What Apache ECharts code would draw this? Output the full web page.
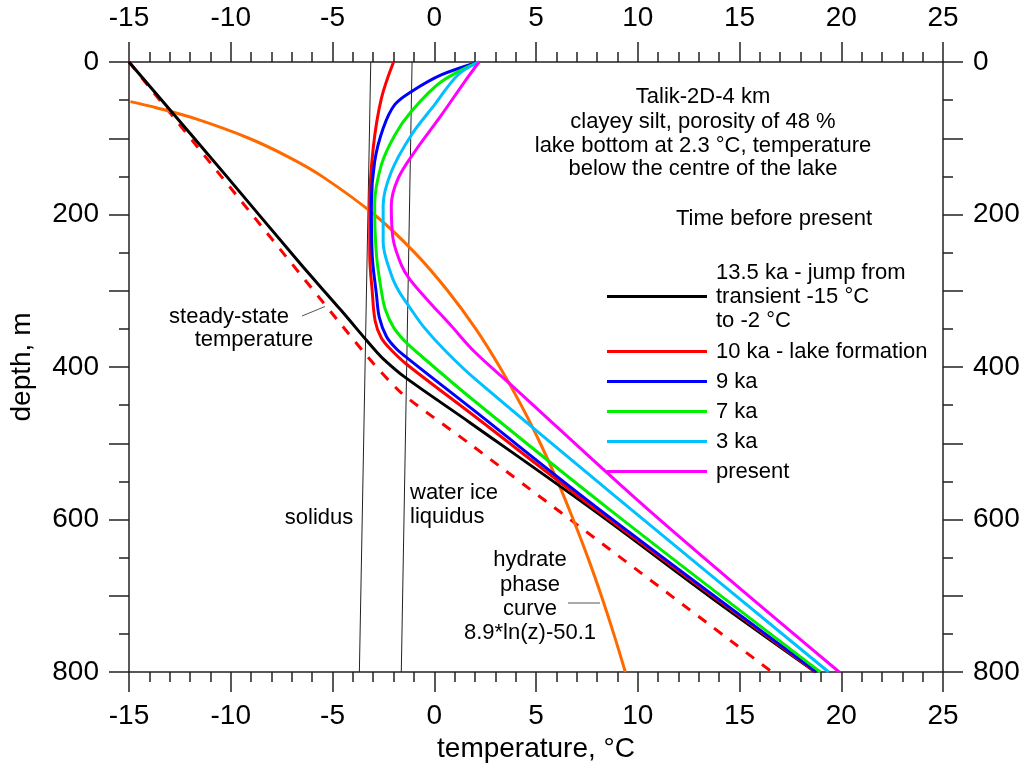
<!DOCTYPE html>
<html>
<head>
<meta charset="utf-8">
<script src="https://cdn.jsdelivr.net/npm/echarts@6/dist/echarts.min.js"></script>
<style>
  html, body { margin: 0; padding: 0; background: #fff; }
  #chart { width: 1024px; height: 772px; }
</style>
</head>
<body>
<div id="chart"></div>
<script>
// temperature (°C), depth (m) pairs
var transient135 = [[-15, 0], [-10.2, 150], [-6.6, 264], [-4.6, 325], [-3.33, 365], [-2.84, 380], [-2.44, 391],
  [-1.46, 413], [1.81, 474], [7.94, 590], [13.74, 705], [18.73, 800]];
var lake10 = [[-2.0, 0], [-2.6, 48], [-3.0, 113], [-3.17, 188], [-3.17, 253], [-3.05, 300], [-2.9, 340],
  [-2.6, 362], [-2.1, 378], [-1.33, 397], [1.81, 461], [8.1, 590], [18.75, 800]];
var ka9 = [[2.2, 0], [0.34, 17], [-1.13, 39], [-1.94, 56], [-2.51, 87], [-2.93, 131], [-3.09, 188], [-3.05, 253],
  [-2.84, 305], [-2.7, 335], [-2.35, 360], [-1.9, 375], [-1.29, 389], [1.81, 454], [8.27, 590], [18.8, 800]];
var ka7 = [[2.2, 0], [0.34, 26], [-1.13, 65], [-1.94, 96], [-2.6, 135], [-2.93, 188], [-2.84, 253], [-2.6, 300],
  [-2.4, 325], [-2.0, 348], [-1.45, 366], [-0.88, 380], [1.81, 441], [8.76, 590], [18.97, 800]];
var ka3 = [[2.2, 0], [1.16, 17], [0.02, 56], [-1.13, 96], [-2.11, 144], [-2.51, 188], [-2.51, 236], [-2.11, 279],
  [-1.75, 300], [-1.2, 322], [-0.5, 348], [0.59, 380], [2.06, 417], [9.82, 590], [19.38, 800]];
var present = [[2.2, 0], [1.49, 26], [0.34, 70], [-0.97, 118], [-1.78, 153], [-2.11, 188], [-2.03, 231],
  [-1.62, 266], [-1.2, 285], [-0.3, 313], [0.8, 345], [1.98, 380], [3.8, 424], [10.64, 590], [19.9, 800]];
var steadyState = [[-15, 0], [-3.42, 382], [-1.62, 434], [1.81, 502], [16.6, 800]];
var solidus = [[-3.12, 0], [-3.68, 800]];
var liquidus = [[-1.09, 0], [-1.62, 800]];
var hydrateDepth = [52, 60, 75, 100, 125, 150, 200, 250, 300, 350, 400, 450, 500, 550, 600, 650, 700, 750, 800];
var hydrateTemp = [-14.93, -13.66, -11.67, -9.11, -7.13, -5.51, -2.95, -0.96, 0.66, 2.04, 3.22, 4.27, 5.21, 6.06,
  6.83, 7.55, 8.21, 8.82, 9.39];

var legendNames = ["13.5 ka - jump from\ntransient -15 °C\nto -2 °C", "10 ka - lake formation", "9 ka", "7 ka", "3 ka", "present"];
var legendColors = ["#000000", "#ff0000", "#0000ff", "#00ee00", "#00c0ff", "#ff00ff"];
var titleLines = ["Talik-2D-4 km", "clayey silt, porosity of 48 %", "lake bottom at 2.3 °C, temperature", "below the centre of the lake"];

var FONT = "Liberation Sans, Arial, sans-serif";
var myChart = echarts.init(document.getElementById("chart"));

var hydrate = hydrateDepth.map(function (z, i) { return [hydrateTemp[i], z]; });

function xAxisCfg(pos) {
  return {
    type: "value", position: pos, min: -15, max: 25, interval: 5,
    axisLine: { show: true, onZero: false, lineStyle: { color: "#222", width: 1.5 } },
    axisTick: { show: true, length: 20, lineStyle: { color: "#222", width: 1.5 } },
    minorTick: { show: true, splitNumber: 5, length: 10, lineStyle: { color: "#222", width: 1.5 } },
    axisLabel: { margin: 30, fontSize: 28, color: "#000", fontFamily: FONT },
    splitLine: { show: false }
  };
}
function yAxisCfg(pos) {
  return {
    type: "value", position: pos, min: 0, max: 800, interval: 100, inverse: true,
    axisLine: { show: true, onZero: false, lineStyle: { color: "#222", width: 1.5 } },
    axisTick: { show: true, length: 20, lineStyle: { color: "#222", width: 1.5 } },
    minorTick: { show: true, splitNumber: 2, length: 10, lineStyle: { color: "#222", width: 1.5 } },
    axisLabel: {
      margin: 30, fontSize: 28, color: "#000", fontFamily: FONT,
      formatter: function (v) { return v % 200 === 0 ? String(v) : ""; }
    },
    splitLine: { show: false }
  };
}

function curve(name, data, color, extra) {
  var s = {
    name: name, type: "line", data: data, showSymbol: false, smooth: 0.35,
    lineStyle: { color: color, width: 3 }, z: 3
  };
  if (extra) { for (var k in extra) s[k] = extra[k]; }
  return s;
}

var textStyle = function (t, x, y, align) {
  return {
    type: "text", z: 10,
    style: {
      text: t, x: x, y: y, font: "22px " + FONT, fill: "#000",
      align: align || "center", verticalAlign: "middle",
      textAlign: align || "center", textVerticalAlign: "middle"
    }
  };
};

var graphics = [];
var titleY = [97, 121.5, 145.5, 169];
titleLines.forEach(function (t, i) { graphics.push(textStyle(t, 703, titleY[i])); });
graphics.push(textStyle("Time before present", 774, 219));

// legend
var legendLineY = [296.5, 351.5, 381.5, 411.5, 441.5, 471.5];
legendNames.forEach(function (n, i) {
  graphics.push({
    type: "line", z: 10,
    shape: { x1: 607, y1: legendLineY[i], x2: 707, y2: legendLineY[i] },
    style: { stroke: legendColors[i], lineWidth: 3 }
  });
  var parts = n.split("\n");
  var offs = parts.length === 3 ? [-24, 0, 24] : [0];
  parts.forEach(function (p, j) {
    graphics.push(textStyle(p, 716, legendLineY[i] + offs[j], "left"));
  });
});

// annotations
graphics.push(textStyle("steady-state", 229, 316.5));
graphics.push(textStyle("temperature", 254, 340));
graphics.push({ type: "line", z: 10, shape: { x1: 302, y1: 316, x2: 325, y2: 306.5 }, style: { stroke: "#555", lineWidth: 1 } });
graphics.push(textStyle("solidus", 319, 518));
graphics.push(textStyle("water ice", 410, 493, "left"));
graphics.push(textStyle("liquidus", 410, 517, "left"));
graphics.push(textStyle("hydrate", 530, 560));
graphics.push(textStyle("phase", 530, 585));
graphics.push(textStyle("curve", 530, 609));
graphics.push(textStyle("8.9*ln(z)-50.1", 530, 633));
graphics.push({ type: "line", z: 10, shape: { x1: 568, y1: 603, x2: 600, y2: 603 }, style: { stroke: "#555", lineWidth: 1 } });

var xb = xAxisCfg("bottom");
xb.name = "temperature, °C";
xb.nameLocation = "middle";
xb.nameGap = 58;
xb.nameTextStyle = { fontSize: 28, color: "#000", fontFamily: FONT };
var xt = xAxisCfg("top");
var yl = yAxisCfg("left");
yl.name = "depth, m";
yl.nameLocation = "middle";
yl.nameGap = 93;
yl.nameTextStyle = { fontSize: 28, color: "#000", fontFamily: FONT };
var yr = yAxisCfg("right");

var option = {
  animation: false,
  backgroundColor: "#fff",
  grid: { left: 127, right: 81, top: 62, bottom: 100 },
  xAxis: [xb, xt],
  yAxis: [yl, yr],
  graphic: graphics,
  series: [
    { name: "solidus", type: "line", data: solidus, showSymbol: false, lineStyle: { color: "#222", width: 1 }, z: 2 },
    { name: "liquidus", type: "line", data: liquidus, showSymbol: false, lineStyle: { color: "#222", width: 1 }, z: 2 },
    curve("steady-state", steadyState, "#ff0000", { smooth: 0.2, lineStyle: { color: "#ff0000", width: 3, type: [10, 10] } }),
    curve("hydrate", hydrate, "#ff6a00"),
    curve("13.5 ka", transient135, "#000000"),
    curve("10 ka", lake10, "#ff0000"),
    curve("9 ka", ka9, "#0000ff"),
    curve("7 ka", ka7, "#00ee00"),
    curve("3 ka", ka3, "#00c0ff"),
    curve("present", present, "#ff00ff")
  ]
};

myChart.setOption(option);
</script>
</body>
</html>
